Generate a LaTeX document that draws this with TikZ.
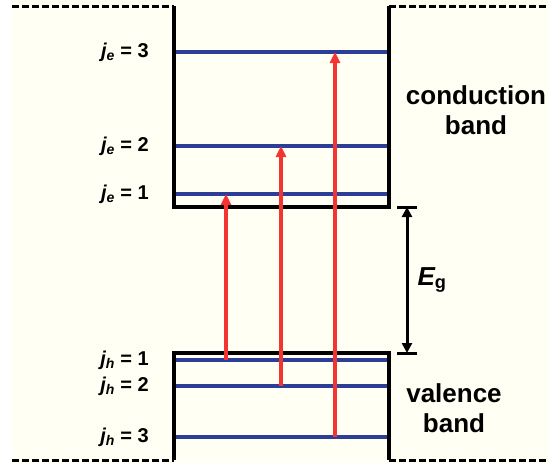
\documentclass[tikz,border=0pt]{standalone}
\usepackage{fontspec}
\setmainfont{Liberation Sans}
\usepackage{xcolor}
\usetikzlibrary{arrows.meta,calc}
\definecolor{bandbg}{RGB}{255,255,244}
\definecolor{levelblue}{RGB}{45,62,152}
\definecolor{transred}{RGB}{244,52,48}

\begin{document}
\begin{tikzpicture}[x=1pt,y=-1pt,font=\bfseries,
  wall/.style={line width=3.6pt,black,line join=miter},
  bandedge/.style={line width=3pt,black,dash pattern=on 6.5pt off 3.5pt},
  level/.style={line width=3.4pt,levelblue},
  trans/.style={line width=3.4pt,transred,-{Triangle[length=11pt,width=10pt]}},
  lbl/.style={font=\fontsize{20}{24}\selectfont\bfseries,anchor=east,inner sep=0pt},
  band/.style={font=\fontsize{26}{30}\selectfont\bfseries,align=center}]
\useasboundingbox (0,0) rectangle (549,463);
\fill[bandbg] (12,0) rectangle (549,463);
% well corners
\coordinate (cTL) at (174,6);
\coordinate (cBL) at (174,207);
\coordinate (cBR) at (389,207);
\coordinate (cTR) at (389,6);
\coordinate (vTL) at (174,353);
\coordinate (vBL) at (174,460);
\coordinate (vBR) at (389,460);
\coordinate (vTR) at (389,353);
% continuum edges
\draw[bandedge] (12,6) -- (cTL);
\draw[bandedge] (cTR) -- (549,6);
\draw[bandedge] (12,460) -- (vBL);
\draw[bandedge] (vBR) -- (549,460);
\draw[wall] (cTL) -- (cBL) -- (cBR) -- (cTR);
\draw[wall] (vBL) -- (vTL) -- (vTR) -- (vBR);
% levels
\foreach \n/\y in {3/52,2/146,1/194}{
  \coordinate (e\n L) at (176,\y);
  \coordinate (e\n R) at (387,\y);
  \draw[level] (e\n L) -- (e\n R);
  \node[lbl] (je\n) at (149,\y) {{\itshape j}\textsubscript{\itshape e} = \n};
}
\foreach \n/\y in {1/360,2/386,3/437}{
  \coordinate (h\n L) at (176,\y);
  \coordinate (h\n R) at (387,\y);
  \draw[level] (h\n L) -- (h\n R);
  \node[lbl] (jh\n) at (149,\y) {{\itshape j}\textsubscript{\itshape h} = \n};
}
% transitions
\coordinate (t1a) at (226,360);
\coordinate (t1b) at (226,194);
\coordinate (t2a) at (281,386);
\coordinate (t2b) at (281,146);
\coordinate (t3a) at (335,437);
\coordinate (t3b) at (335,52);
\draw[trans] (t1a) -- (t1b);
\draw[trans] (t2a) -- (t2b);
\draw[trans] (t3a) -- (t3b);
% band gap
\coordinate (gT) at (407,207);
\coordinate (gB) at (407,353);
\draw[line width=3pt] ($(gT)+(-10,0)$) -- ($(gT)+(10,0)$);
\draw[line width=3pt] ($(gB)+(-10,0)$) -- ($(gB)+(10,0)$);
\draw[line width=3pt,{Triangle[length=10pt,width=10pt]}-{Triangle[length=10pt,width=10pt]}] (gT) -- (gB);
\node[font=\fontsize{26}{30}\selectfont\bfseries] (Eg) at (432,280) {{\itshape E}\textsubscript{g}};
% band names
\node[band] (cb) at (476,110) {conduction\\band};
\node[band] (vb) at (454,408) {valence\\band};
\end{tikzpicture}
\end{document}
